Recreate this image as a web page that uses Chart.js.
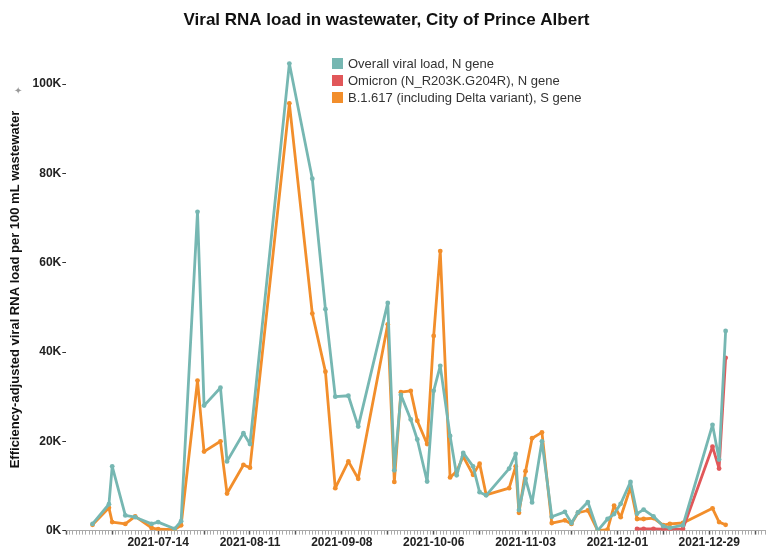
<!DOCTYPE html>
<html>
<head>
<meta charset="utf-8">
<title>Viral RNA load in wastewater, City of Prince Albert</title>
<script src="https://cdn.jsdelivr.net/npm/chart.js@4.4.0/dist/chart.umd.min.js"></script>
<style>
  html, body { margin: 0; padding: 0; background: #fff; }
  #wrap { position: relative; width: 768px; height: 559px; }
  #legend {
    position: absolute; left: 332px; top: 55px;
    font: 13px "Liberation Sans", Arial, sans-serif; color: #333;
  }
  #legend div { height: 17px; line-height: 17px; white-space: nowrap; }
  #legend span.sw { display: inline-block; width: 11px; height: 11px; margin-right: 5px; vertical-align: -1px; }
  #pin { position: absolute; left: 14px; top: 85px; font-size: 10px; color: #999; }
</style>
</head>
<body>
<div id="wrap">
  <canvas id="chart" width="768" height="559"></canvas>
  <div id="legend"></div>
  <div id="pin">✦</div>
</div>
<script>
// === DATA ===
const dates = [
  '2021-06-24', '2021-06-29', '2021-06-30', '2021-07-04', '2021-07-07', '2021-07-12', '2021-07-14',
  '2021-07-19', '2021-07-21', '2021-07-26', '2021-07-28', '2021-08-02', '2021-08-04', '2021-08-09',
  '2021-08-11', '2021-08-23', '2021-08-30', '2021-09-03', '2021-09-06', '2021-09-10', '2021-09-13',
  '2021-09-22', '2021-09-24', '2021-09-26', '2021-09-29', '2021-10-01', '2021-10-04', '2021-10-06',
  '2021-10-08', '2021-10-11', '2021-10-13', '2021-10-15', '2021-10-18', '2021-10-20', '2021-10-22',
  '2021-10-29', '2021-10-31', '2021-11-01', '2021-11-03', '2021-11-05', '2021-11-08', '2021-11-11',
  '2021-11-15', '2021-11-17', '2021-11-19', '2021-11-22', '2021-11-25', '2021-11-28', '2021-11-30',
  '2021-12-02', '2021-12-05', '2021-12-07', '2021-12-09', '2021-12-12', '2021-12-15', '2021-12-17',
  '2021-12-21', '2021-12-30', '2022-01-01', '2022-01-03'
];

const overallN = [
  1500, 5900, 14400, 3400, 3000, 1500, 1900,
  400, 2100, 71400, 28000, 32000, 15500, 21800,
  19400, 104600, 78800, 49600, 30000, 30200, 23300,
  51000, 13500, 30400, 24900, 20400, 11000, 31300,
  36900, 21200, 12400, 17400, 14400, 8600, 7900,
  13900, 17200, 4600, 11600, 6300, 20000, 3100,
  4200, 1700, 4100, 6400, 0, 2600, 3700,
  6000, 10900, 3800, 4700, 3200, 1000, 600,
  1200, 23700, 15900, 44700
];

const omicronN = [
  null, null, null, null, null, null, null,
  null, null, null, null, null, null, null,
  null, null, null, null, null, null, null,
  null, null, null, null, null, null, null,
  null, null, null, null, null, null, null,
  null, null, null, null, null, null, null,
  null, null, null, null, null, null, null,
  null, null, 400, 400, 400, 300, 300,
  400, 18800, 13900, 38700
];

const deltaS = [
  1300, 5100, 1900, 1500, 3200, 600, 300,
  200, 1200, 33600, 17700, 20000, 8300, 14700,
  14100, 95700, 48600, 35600, 9500, 15500, 11600,
  46200, 10900, 31000, 31300, 24600, 19400, 43600,
  62600, 11900, 13300, 16600, 12500, 15000, 8000,
  9500, 14400, 4000, 13300, 20700, 22000, 1700,
  2300, 1500, 4000, 4500, 0, 200, 5600,
  3000, 9700, 2600, 2600, 2800, 1200, 1500,
  1700, 5000, 1900, 1300
];

const seriesNames = [
  'Overall viral load, N gene',
  'Omicron (N_R203K.G204R), N gene',
  'B.1.617 (including Delta variant), S gene'
];
const seriesColors = ['#76b7b2', '#e15759', '#f28e2b'];
const yTicks = [0, 20000, 40000, 60000, 80000, 100000];

// day numbers for the linear x axis
const dayNum = s => Date.UTC(+s.slice(0, 4), +s.slice(5, 7) - 1, +s.slice(8, 10)) / 86400000;
const dayStr = d => new Date(d * 86400000).toISOString().slice(0, 10);
const refDay = dayNum('2021-07-14');
const xs = dates.map(dayNum);
const toPts = vals => xs.map((x, i) => ({ x: x, y: vals[i] }));

const FONT = '"Liberation Sans", Arial, sans-serif';

const mkSet = (i, vals) => ({
  label: seriesNames[i],
  data: toPts(vals),
  borderColor: seriesColors[i],
  backgroundColor: seriesColors[i],
  borderWidth: 2.8,
  borderJoinStyle: 'round',
  borderCapStyle: 'round',
  pointRadius: 2.4,
  pointHoverRadius: 3,
  pointBorderWidth: 0,
  tension: 0
});

// legend (html)
const legendEl = document.getElementById('legend');
seriesNames.forEach((n, i) => {
  const row = document.createElement('div');
  row.innerHTML = `<span class="sw" style="background:${seriesColors[i]}"></span>${n}`;
  legendEl.appendChild(row);
});

const ctx = document.getElementById('chart').getContext('2d');
new Chart(ctx, {
  type: 'line',
  data: {
    datasets: [mkSet(0, overallN), mkSet(1, omicronN), mkSet(2, deltaS)]
  },
  options: {
    responsive: false,
    animation: false,
    layout: { padding: { top: 0, bottom: 8, left: 8, right: 3 } },
    plugins: {
      legend: { display: false },
      tooltip: { enabled: false },
      title: {
        display: true,
        text: 'Viral RNA load in wastewater, City of Prince Albert',
        color: '#111',
        font: { family: FONT, size: 17, weight: 'bold' },
        padding: { top: 10, bottom: 18 }
      }
    },
    scales: {
      x: {
        type: 'linear',
        min: refDay - 28,
        max: refDay + 185,
        grid: {
          drawOnChartArea: false,
          tickLength: 4,
          tickColor: c => ((c.tick.value - refDay) % 14 === 0 ? '#555' : '#aaa'),
          tickWidth: c => ((c.tick.value - refDay) % 14 === 0 ? 1.5 : 1)
        },
        border: { display: true, color: '#aaa', width: 1 },
        ticks: {
          stepSize: 1,
          autoSkip: false,
          maxRotation: 0,
          padding: 1,
          color: '#222',
          font: { family: FONT, size: 12, weight: 'bold' },
          callback: v => (v >= refDay && (v - refDay) % 28 === 0 ? dayStr(v) : '')
        }
      },
      y: {
        min: 0,
        max: 108000,
        afterBuildTicks: s => { s.ticks = yTicks.map(v => ({ value: v })); },
        grid: { drawOnChartArea: false, tickLength: 4, tickColor: '#333' },
        border: { display: false },
        ticks: {
          padding: 1,
          color: '#222',
          font: { family: FONT, size: 12, weight: 'bold' },
          callback: v => (v / 1000) + 'K'
        },
        title: {
          display: true,
          text: 'Efficiency-adjusted viral RNA load per 100 mL wastewater',
          color: '#111',
          font: { family: FONT, size: 13, weight: 'bold' },
          padding: { top: 0, bottom: 8 }
        }
      }
    }
  }
});
</script>
</body>
</html>
